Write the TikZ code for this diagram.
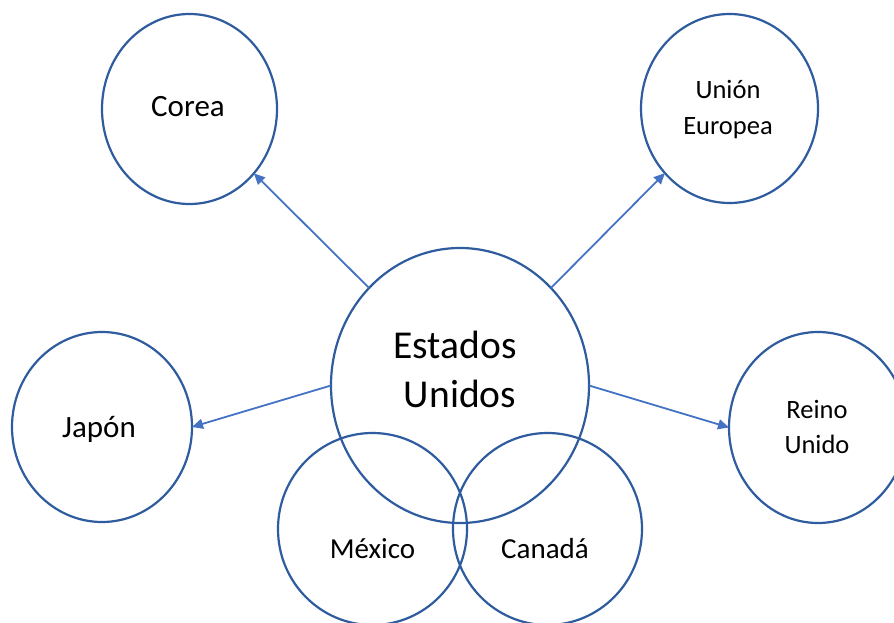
\documentclass[tikz,border=0pt]{standalone}
\usepackage{fontspec}
\setmainfont{Carlito}
\usetikzlibrary{shapes.geometric,arrows.meta}
\definecolor{ringblue}{HTML}{2E5C9E}
\definecolor{arrowblue}{HTML}{4472C4}
\tikzset{
  ring/.style={draw=ringblue, line width=2.2pt, ellipse, inner sep=0pt, outer sep=0pt},
  link/.style={draw=arrowblue, line width=1.8pt, -{Triangle[length=11pt,width=10pt]}},
  lbl/.style={anchor=base, inner sep=0pt, text=black},
}
\begin{document}
\begin{tikzpicture}[x=1pt,y=-1pt]
\useasboundingbox[fill=white] (0,0) rectangle (894,623);
\node[ring, minimum width=175pt, minimum height=190pt] (corea) at (189.5,109) {};
\node[ring, minimum width=177pt, minimum height=189pt] (eu) at (729.5,108.5) {};
\node[ring, minimum width=258pt, minimum height=275pt] (us) at (460,385.5) {};
\node[ring, minimum width=180pt, minimum height=190pt] (japon) at (102,427) {};
\node[ring, minimum width=178pt, minimum height=191pt] (ru) at (818,427.5) {};
\node[ring, minimum width=189pt, minimum height=192pt] (mex) at (372.5,529) {};
\node[ring, minimum width=189pt, minimum height=192pt] (can) at (547.5,529) {};

\node[lbl, font=\fontsize{31}{37}\selectfont] (tcorea) at (188,117) {Corea};
\node[lbl, font=\fontsize{26.5}{32}\selectfont] (teu1) at (728,99) {Unión};
\node[lbl, font=\fontsize{26.5}{32}\selectfont] (teu2) at (728,135) {Europea};
\node[lbl, font=\fontsize{39.5}{47}\selectfont] (tus1) at (455,358) {Estados};
\node[lbl, font=\fontsize{39.5}{47}\selectfont] (tus2) at (460,407) {Unidos};
\node[lbl, font=\fontsize{31}{37}\selectfont] (tjapon) at (99,437) {Japón};
\node[lbl, font=\fontsize{26.5}{32}\selectfont] (tru1) at (817,418) {Reino};
\node[lbl, font=\fontsize{26.5}{32}\selectfont] (tru2) at (817,453) {Unido};
\node[lbl, font=\fontsize{29}{35}\selectfont] (tmex) at (372.5,558) {México};
\node[lbl, font=\fontsize{29}{35}\selectfont] (tcan) at (545,558) {Canadá};

\draw[link] (us.133) -- (corea.-45);
\draw[link] (us.47) -- (eu.-135);
\draw[link] (us.west) -- (japon.east);
\draw[link] (us.east) -- (ru.west);
\end{tikzpicture}
\end{document}
